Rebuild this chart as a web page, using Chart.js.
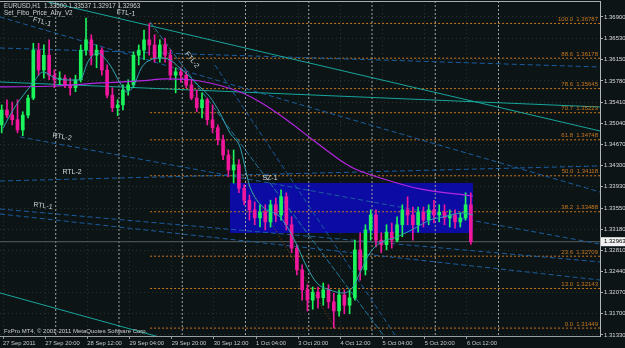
<!DOCTYPE html>
<html><head><meta charset="utf-8">
<script src="https://cdn.jsdelivr.net/npm/chart.js@4"></script>
<style>html,body{margin:0;padding:0;background:#0d1416;overflow:hidden}canvas{display:block}</style>
</head><body>
<canvas id="c" width="625" height="348"></canvas>
<script>
// ---------- texts ----------
const symbolHeader = "EURUSD,H1  1.33500 1.33537 1.32917 1.32963";
const indicatorName = "Set_Fibo_Price_Any_V2";
const copyright = "FxPro MT4, \u00A9 2001-2011 MetaQuotes Software Corp.";

// ---------- candles (2-hour bars) ----------
const barOpen = [
1.3501,1.3527,1.3518,1.3510,1.3492,1.3518,1.3548,1.3632,1.3597,1.3623,
1.3588,1.3580,1.3583,1.3571,1.3566,1.3580,1.3632,1.3650,1.3623,1.3632,
1.3597,1.3553,1.3531,1.3536,1.3562,1.3571,1.3623,1.3632,1.3650,1.3641,
1.3618,1.3641,1.3623,1.3588,1.3594,1.3588,1.3571,1.3548,1.3531,1.3545,
1.3510,1.3496,1.3475,1.3448,1.3422,1.3431,1.3390,1.3369,1.3352,1.3338,
1.3348,1.3331,1.3361,1.3343,1.3375,1.3326,1.3285,1.3247,1.3212,1.3194,
1.3208,1.3198,1.3212,1.3191,1.3175,1.3203,1.3185,1.3198,1.3282,1.3247,
1.3317,1.3343,1.3299,1.3291,1.3313,1.3299,1.3326,1.3352,1.3343,1.3326,
1.3348,1.3334,1.3352,1.3343,1.3348,1.3338,1.3343,1.3331,1.3338,1.3361];
const barHigh = [
1.3536,1.3545,1.3541,1.3545,1.3524,1.3553,1.3644,1.3644,1.3641,1.3650,
1.3597,1.3594,1.3588,1.3583,1.3588,1.3641,1.3688,1.3659,1.3641,1.3636,
1.3606,1.3566,1.3545,1.3571,1.3580,1.3629,1.3641,1.3667,1.36787,1.3659,
1.3650,1.3653,1.3632,1.3601,1.3601,1.3594,1.3580,1.3562,1.3557,1.3548,
1.3536,1.3501,1.3483,1.3457,1.3457,1.3440,1.3396,1.3378,1.3366,1.3361,
1.3361,1.3369,1.3373,1.3387,1.3382,1.3340,1.3291,1.3256,1.3221,1.3217,
1.3217,1.3224,1.3221,1.3206,1.3212,1.3212,1.3212,1.3299,1.3312,1.3326,
1.3352,1.3352,1.3312,1.3326,1.3329,1.3340,1.3361,1.3375,1.3357,1.3357,
1.3357,1.3361,1.3369,1.3361,1.3361,1.3352,1.3352,1.3347,1.3382,1.3382];
const barLow = [
1.3487,1.3513,1.3501,1.3487,1.3482,1.3513,1.3545,1.3588,1.3583,1.3580,
1.3566,1.3571,1.3566,1.3553,1.3559,1.3576,1.3623,1.3606,1.3601,1.3588,
1.3548,1.3524,1.3517,1.3527,1.3553,1.3566,1.3606,1.3615,1.3623,1.3611,
1.3611,1.3611,1.3580,1.3557,1.3576,1.3566,1.3545,1.3524,1.3513,1.3501,
1.3487,1.3466,1.3440,1.3410,1.3399,1.3382,1.3361,1.3334,1.3326,1.3322,
1.3317,1.3322,1.3331,1.3334,1.3317,1.3277,1.3238,1.3194,1.3175,1.3178,
1.3180,1.3185,1.3180,1.31449,1.3166,1.3170,1.3170,1.3194,1.3229,1.3238,
1.3299,1.3287,1.3277,1.3282,1.3285,1.3296,1.3305,1.3326,1.3299,1.3313,
1.3322,1.3326,1.3329,1.3331,1.3326,1.3322,1.3320,1.3322,1.3334,1.32917];
const barClose = [
1.3527,1.3518,1.3510,1.3492,1.3518,1.3548,1.3632,1.3597,1.3623,1.3588,
1.3580,1.3583,1.3571,1.3566,1.3580,1.3632,1.3650,1.3623,1.3632,1.3597,
1.3553,1.3531,1.3536,1.3562,1.3571,1.3623,1.3632,1.3650,1.3641,1.3618,
1.3641,1.3623,1.3588,1.3594,1.3588,1.3571,1.3548,1.3531,1.3545,1.3510,
1.3496,1.3475,1.3448,1.3422,1.3431,1.3390,1.3369,1.3352,1.3338,1.3348,
1.3331,1.3361,1.3343,1.3375,1.3326,1.3285,1.3247,1.3212,1.3194,1.3208,
1.3198,1.3212,1.3191,1.3175,1.3203,1.3185,1.3198,1.3282,1.3247,1.3317,
1.3343,1.3299,1.3291,1.3313,1.3299,1.3326,1.3352,1.3343,1.3326,1.3348,
1.3334,1.3352,1.3343,1.3348,1.3338,1.3343,1.3331,1.3338,1.3361,1.32963];
const barPeriodHours = 2;
const firstBarHour = -1;

// ---------- axes ----------
const xTickIdx = [0,16,32,48,64,80,96,112,128,144,160,176];
const xTickLabels = ["27 Sep 2011","27 Sep 20:00","28 Sep 12:00","29 Sep 04:00","29 Sep 20:00","30 Sep 12:00","1 Oct 04:00","3 Oct 20:00","4 Oct 12:00","5 Oct 04:00","5 Oct 20:00","6 Oct 12:00"];
const yTicks = [1.36900,1.36530,1.36150,1.35780,1.35410,1.35040,1.34670,1.34300,1.33930,1.33550,1.33180,1.32810,1.32440,1.32070,1.31700,1.31330];
const xMin = -1.14, xMax = 226.5, yMin = 1.31311, yMax = 1.37180;
const lastPrice = 1.32963;
const separatorIdx = [20,44,68,92,116,140,164,188];

// ---------- Fibonacci ----------
const fibLevels = ["100.0","88.6","78.6","70.7","61.8","50.0","38.2","23.6","13.0","0.0"];
const fibPrices = [1.36787,1.36178,1.35645,1.35223,1.34748,1.34118,1.33488,1.32709,1.32143,1.31449];
const fibStartIdx = 55.8;
const fibDiagonal = [55.8,1.36787,126.0,1.31449];

// ---------- moving averages ----------
const slowMaIdx = [-1.1,19.7,36.8,52.0,62.2,74.7,89.9,97.5,107.7,117.6,127.8,132.8,145.7,158.2,178.3];
const slowMaVal = [1.35674,1.35691,1.35744,1.35779,1.35814,1.35779,1.35586,1.35411,1.35096,1.34745,1.34395,1.34255,1.34044,1.33887,1.33764];
const fastMaIdx = [0,3.8,11.4,15.2,19.7,24.3,29.2,32.2,35.7,40.6,44.4,47.0,49.3,52.7,55.8,59.6,63.4,67.1,71.0,74.7,78.5,82.3,86.1,89.9,93.7,98.6,105.1,110.0,115.3,119.1,124.1,129.0,132.8,135.4,139.2,143.0,149.5,157.1,162.0,166.9,174.5,178.3];
const fastMaVal = [1.34948,1.35271,1.35744,1.35937,1.35832,1.35796,1.35796,1.36112,1.36270,1.36059,1.35744,1.35586,1.35674,1.36024,1.36147,1.36182,1.36147,1.36007,1.35849,1.35674,1.35499,1.35218,1.34868,1.34623,1.33922,1.33571,1.33396,1.33046,1.32520,1.32240,1.32117,1.32064,1.32170,1.32415,1.32766,1.32941,1.33046,1.33221,1.33344,1.33396,1.33466,1.33431];

// ---------- trend lines [idx0, price0, idx1, price1] ----------
const tealLines = [
  [14.0,1.37198,226.5,1.34903],
  [-1.14,1.32065,63.4,1.31241],
  [-1.14,1.35761,226.5,1.35323]];
const blueDashLines = [
  [-1.14,1.36357,226.5,1.36024],
  [-1.14,1.36900,226.5,1.33834],
  [6.4,1.34798,226.5,1.32923],
  [-1.14,1.34027,226.5,1.34290],
  [-1.14,1.33536,226.5,1.32608],
  [-1.14,1.33449,226.5,1.32292],
  [80.4,1.36059,148.7,1.31329]];
const ftl2Line = [55.8,1.36813,144.2,1.31329];
const zoneSZ1 = [86.1,178.3,1.33992,1.33117];

const lineLabels = ["FTL-1","FTL-1","FTL-2","RTL-2","RTL-2","RTL-1","SZ-1"];
const lineLabelIdx = [14.8,46.7,71.7,22.4,26.2,15.2,101.3];
const lineLabelPrice = [1.36813,1.36970,1.36147,1.34798,1.34185,1.33589,1.34079];
const lineLabelAngle = [16,6,52,10,0,8,0];

// ---------- build ----------
const BULL = '#1af55c', BEAR = '#f0179c';
const candles = barOpen.map((o,k)=>({x:firstBarHour+barPeriodHours*k+0.5,o,h:barHigh[k],l:barLow[k],c:barClose[k]}));
const cCol = candles.map(b=>b.c>=b.o?BULL:BEAR);
const seg = (a,color,width,dash,order)=>({type:'line',data:[{x:a[0],y:a[1]},{x:a[2],y:a[3]}],borderColor:color,borderWidth:width,borderDash:dash,pointRadius:0,fill:false,order});

const datasets = [];
datasets.push({type:'line',data:[{x:zoneSZ1[0],y:zoneSZ1[2]},{x:zoneSZ1[1],y:zoneSZ1[2]}],borderWidth:0,borderColor:'rgba(0,0,0,0)',backgroundColor:'#0c0ca4',pointRadius:0,fill:{value:zoneSZ1[3]},order:30});
separatorIdx.forEach(s=>datasets.push(seg([s,yMax,s,yMin],'#a0a4a4',1,[2,2],25)));
datasets.push(seg([xMin,lastPrice,xMax,lastPrice],'#56605f',1,[],24));
fibPrices.forEach(p=>datasets.push(seg([fibStartIdx,p,xMax,p],'#c8781e',1,[2,2],22)));
datasets.push(seg(fibDiagonal,'#8a4a18',1,[1,2],21));
blueDashLines.forEach(l=>datasets.push(seg(l,'#1a5c9e',1,[5,3],18)));
datasets.push(seg(ftl2Line,'#22789e',1,[6,2],17));
tealLines.forEach(l=>datasets.push(seg(l,'#17a59b',1,[],16)));
datasets.push({type:'bar',data:candles.map(b=>({x:b.x,y:[b.l,b.h]})),backgroundColor:cCol,barThickness:1,grouped:false,order:6});
datasets.push({type:'bar',data:candles.map(b=>({x:b.x,y:[b.o,b.c]})),backgroundColor:cCol,barThickness:3,grouped:false,order:5});
datasets.push({type:'line',data:slowMaIdx.map((x,i)=>({x,y:slowMaVal[i]})),borderColor:'#b526e2',borderWidth:1.2,pointRadius:0,fill:false,cubicInterpolationMode:'monotone',order:2});
datasets.push({type:'line',data:fastMaIdx.map((x,i)=>({x,y:fastMaVal[i]})),borderColor:'#2ea3b0',borderWidth:1,pointRadius:0,fill:false,cubicInterpolationMode:'monotone',order:1});

const FONT = '"Liberation Sans", Arial, sans-serif';
const overlay = {
  id:'overlay',
  beforeDraw(chart){const c=chart.ctx;c.save();c.fillStyle='#0d1416';c.fillRect(0,0,chart.width,chart.height);c.restore();},
  afterDraw(chart){
    const {ctx,chartArea:a,scales:{x,y}} = chart;
    ctx.save();
    ctx.strokeStyle='#a8adad';ctx.lineWidth=1;
    ctx.beginPath();ctx.moveTo(a.left,a.top+0.5);ctx.lineTo(a.right,a.top+0.5);ctx.stroke();
    // fib labels
    ctx.font='6px '+FONT;ctx.fillStyle='#c8781e';ctx.textAlign='right';ctx.textBaseline='bottom';
    fibLevels.forEach((l,i)=>{const py=y.getPixelForValue(fibPrices[i]);ctx.fillText(l+'  '+fibPrices[i].toFixed(5),a.right-2,py-1);});
    // trend line labels
    ctx.fillStyle='#d6dadb';ctx.font='7px '+FONT;ctx.textAlign='center';ctx.textBaseline='middle';
    lineLabels.forEach((t,i)=>{ctx.save();ctx.translate(x.getPixelForValue(lineLabelIdx[i]),y.getPixelForValue(lineLabelPrice[i]));ctx.rotate(lineLabelAngle[i]*Math.PI/180);ctx.fillText(t,0,0);ctx.restore();});
    // header & copyright
    ctx.textAlign='left';ctx.textBaseline='middle';ctx.fillStyle='#d0d0d0';ctx.font='6.3px '+FONT;
    ctx.fillText(symbolHeader,4,6.5);
    ctx.fillText(indicatorName,4,13.5);
    ctx.font='6px '+FONT;
    ctx.fillText(copyright,4,331);
    // current price tag
    const py=y.getPixelForValue(lastPrice);
    ctx.fillStyle='#f2f2f2';ctx.fillRect(a.right+1,py-4.5,24,9);
    ctx.fillStyle='#000';ctx.font='6px '+FONT;ctx.fillText(lastPrice.toFixed(5),a.right+4,py);
    ctx.restore();
  }
};

new Chart(document.getElementById('c'),{
  type:'line',
  data:{datasets},
  plugins:[overlay],
  options:{
    responsive:false,animation:false,devicePixelRatio:1,
    layout:{padding:{top:1,left:0,right:0,bottom:0}},
    plugins:{legend:{display:false},tooltip:{enabled:false}},
    scales:{
      x:{type:'linear',min:xMin,max:xMax,offset:false,position:'bottom',
        afterBuildTicks(s){s.ticks=xTickIdx.map(v=>({value:v}));},
        afterFit(s){s.height=12;s.paddingLeft=0;s.paddingRight=0;},
        ticks:{autoSkip:false,maxRotation:0,minRotation:0,align:'start',color:'#c8c8c8',font:{size:5.8,family:'"Liberation Sans", Arial'},padding:1,
          callback:(v,i)=>xTickLabels[i]},
        grid:{offset:false,color:'#24332f',tickLength:3,tickColor:'#9a9a9a',lineWidth:1},
        border:{color:'#9aa0a0',dash:[1,3]}},
      y:{position:'right',min:yMin,max:yMax,
        afterBuildTicks(s){s.ticks=yTicks.map(v=>({value:v}));},
        afterFit(s){s.width=25;s.paddingTop=0;s.paddingBottom=0;},
        ticks:{color:'#d8d8d8',font:{size:6,family:'"Liberation Sans", Arial'},padding:1,callback:v=>v.toFixed(5)},
        grid:{color:'#24332f',tickLength:3,tickColor:'#b0b0b0',lineWidth:1},
        border:{color:'#b4b8b8',dash:[1,3]}}
    }
  }
});
</script>
</body></html>
